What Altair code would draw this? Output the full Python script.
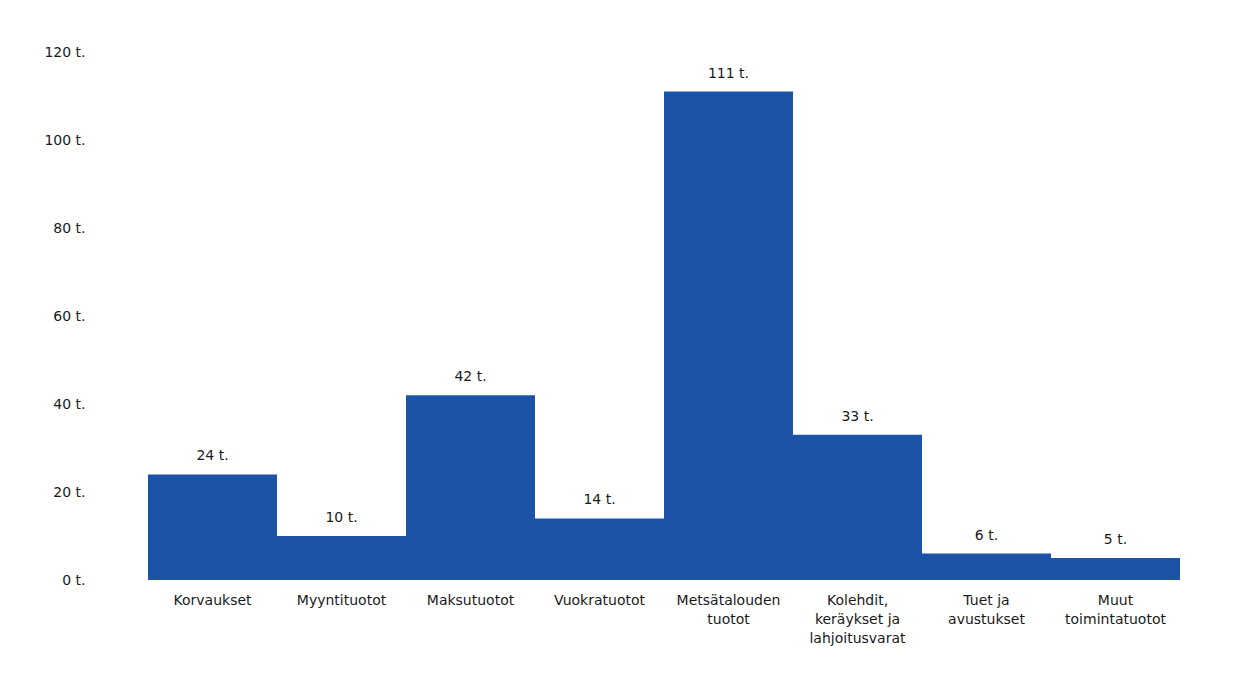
import altair as alt
import pandas as pd

categories = [
    "Korvaukset",
    "Myyntituotot",
    "Maksutuotot",
    "Vuokratuotot",
    "Metsätalouden\ntuotot",
    "Kolehdit,\nkeräykset ja\nlahjoitusvarat",
    "Tuet ja\navustukset",
    "Muut\ntoimintatuotot",
]
values = [24, 10, 42, 14, 111, 33, 6, 5]
y_ticks = [0, 20, 40, 60, 80, 100, 120]

df = pd.DataFrame({"cat": categories, "value": values})
df["label"] = df["value"].astype(str) + " t."

FONT = "DejaVu Sans"
BAR = "#1c53a6"
TXT = "#1a1a1a"

x = alt.X(
    "cat:N",
    sort=categories,
    scale=alt.Scale(paddingInner=0, paddingOuter=0),
    axis=alt.Axis(
        title=None,
        labelAngle=0,
        labelExpr="split(datum.label, '\\n')",
        labelLineHeight=19,
        labelPadding=13,
        labelFontSize=14,
        labelFont=FONT,
        labelColor=TXT,
        ticks=False,
        domain=False,
        labelBaseline="top",
    ),
)
y = alt.Y(
    "value:Q",
    scale=alt.Scale(domain=[0, 120], nice=False),
    axis=alt.Axis(
        title=None,
        values=y_ticks,
        labelExpr="datum.value + ' t.'",
        grid=False,
        ticks=False,
        domain=False,
        labelPadding=63,
        labelFontSize=14,
        labelFont=FONT,
        labelColor=TXT,
    ),
)

bars = alt.Chart(df).mark_bar(color=BAR).encode(x=x, y=y)
text = alt.Chart(df).mark_text(
    dy=-11, baseline="bottom", fontSize=14, font=FONT, color=TXT
).encode(x=alt.X("cat:N", sort=categories), y="value:Q", text="label:N")

chart = (
    alt.layer(bars, text)
    .properties(
        width=1032,
        height=528,
        autosize=alt.AutoSizeParams(type="none"),
        padding={"left": 140, "top": 44, "right": 50, "bottom": 90},
        background="white",
    )
    .configure_view(stroke=None)
)

chart.save("out.html", embed_options={"renderer": "svg", "actions": False})
